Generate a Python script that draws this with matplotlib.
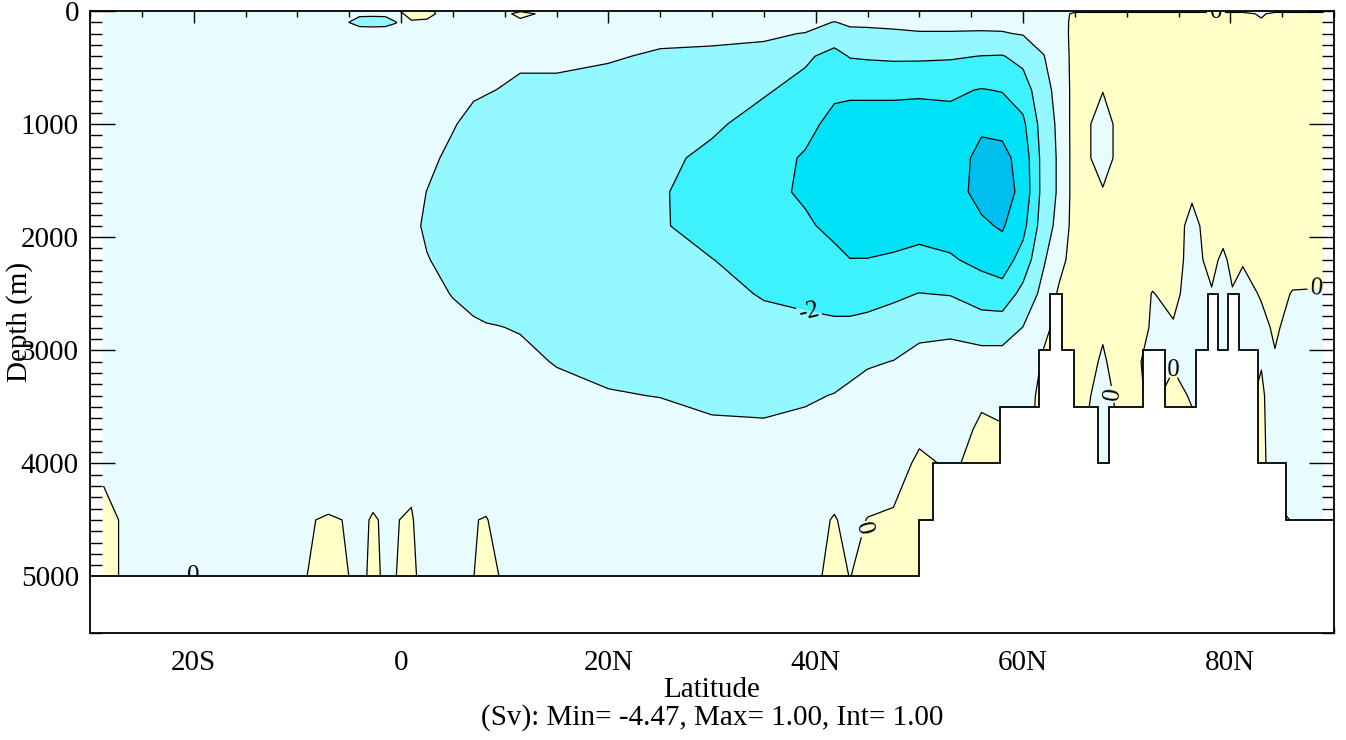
import numpy as np
import matplotlib.pyplot as plt

plt.rcParams['font.family'] = ['Liberation Serif', 'DejaVu Serif']
plt.rcParams['contour.negative_linestyle'] = 'solid'

# grid of the overturning streamfunction (Sv)
lats = [-28.7, -27, -20, -12, -9.2, -7, -4.9, -4, -2.7, -1.5, -0.5, 1, 2.5, 5, 7,
        8.2, 9.5, 11.5, 15, 20, 25, 30, 35, 39, 41.8, 43.3, 45, 47.5, 50, 53, 56,
        58, 60, 62, 63.5, 65, 67.7, 70, 72.5, 74.5, 76.3, 78.2, 79.3, 80.2, 81.2,
        83, 84.3, 86, 89]
depths = [0, 25, 100, 200, 400, 700, 1000, 1300, 1600, 1900, 2200, 2500, 2800,
          3100, 3400, 3700, 4000, 4500, 5000]

# one profile per latitude, top to bottom
psi_cols = [
    [-0.5, -0.5, -0.5, -0.5, -0.5, -0.5, -0.5, -0.5, -0.5, -0.5, -0.5, -0.5, -0.5, -0.5, -0.5, -0.5, -0.2, 0.3, 0.3],  # -28.7
    [-0.5, -0.5, -0.5, -0.5, -0.5, -0.5, -0.5, -0.5, -0.5, -0.5, -0.5, -0.5, -0.5, -0.5, -0.5, -0.5, -0.4, -0.05, -0.05],  # -27
    [-0.5, -0.5, -0.5, -0.5, -0.5, -0.5, -0.5, -0.5, -0.5, -0.5, -0.5, -0.5, -0.5, -0.5, -0.5, -0.5, -0.5, -0.5, -0.5],  # -20
    [-0.5, -0.5, -0.5, -0.5, -0.5, -0.5, -0.5, -0.5, -0.5, -0.5, -0.5, -0.5, -0.5, -0.5, -0.5, -0.5, -0.5, -0.5, -0.5],  # -12
    [-0.5, -0.5, -0.5, -0.5, -0.5, -0.5, -0.5, -0.5, -0.5, -0.5, -0.5, -0.5, -0.5, -0.5, -0.5, -0.5, -0.45, -0.04, -0.02],  # -9.2
    [-0.5, -0.5, -0.5, -0.5, -0.5, -0.5, -0.5, -0.5, -0.5, -0.5, -0.5, -0.5, -0.5, -0.5, -0.5, -0.5, -0.45, 0.05, 0.3],  # -7
    [-0.5, -0.7, -1.03, -0.5, -0.5, -0.5, -0.5, -0.5, -0.5, -0.5, -0.5, -0.5, -0.5, -0.5, -0.5, -0.5, -0.45, -0.03, -0.02],  # -4.9
    [-0.5, -0.85, -1.3, -0.5, -0.5, -0.5, -0.5, -0.5, -0.5, -0.5, -0.5, -0.5, -0.5, -0.5, -0.5, -0.5, -0.45, -0.14, -0.35],  # -4
    [-0.5, -0.85, -1.35, -0.5, -0.5, -0.5, -0.5, -0.5, -0.5, -0.5, -0.5, -0.5, -0.5, -0.5, -0.5, -0.5, -0.4, 0.06, 0.3],  # -2.7
    [-0.5, -0.85, -1.3, -0.5, -0.5, -0.5, -0.5, -0.5, -0.5, -0.5, -0.5, -0.5, -0.5, -0.5, -0.5, -0.5, -0.4, -0.08, -0.21],  # -1.5
    [-0.1, -0.3, -1.05, -0.5, -0.5, -0.5, -0.5, -0.5, -0.5, -0.5, -0.5, -0.5, -0.5, -0.5, -0.5, -0.5, -0.4, -0.03, -0.01],  # -0.5
    [0.3, 0.3, -0.1, -0.4, -0.5, -0.55, -0.6, -0.7, -0.8, -0.85, -0.8, -0.7, -0.6, -0.55, -0.5, -0.45, -0.35, 0.1, 0.3],  # 1
    [0.2, 0.25, -0.15, -0.4, -0.5, -0.6, -0.7, -0.85, -1.01, -1.1, -0.97, -0.8, -0.7, -0.6, -0.55, -0.5, -0.45, -0.65, -0.6],  # 2.5
    [-0.5, -0.5, -0.5, -0.55, -0.6, -0.7, -0.95, -1.15, -1.25, -1.25, -1.2, -1.03, -0.8, -0.65, -0.55, -0.5, -0.45, -0.5, -0.5],  # 5
    [-0.5, -0.5, -0.5, -0.55, -0.65, -0.9, -1.2, -1.35, -1.45, -1.45, -1.4, -1.2, -0.9, -0.7, -0.6, -0.5, -0.45, -0.02, -0.01],  # 7
    [-0.5, -0.5, -0.5, -0.6, -0.7, -0.95, -1.3, -1.45, -1.55, -1.55, -1.5, -1.3, -0.95, -0.75, -0.6, -0.5, -0.45, 0.03, 0.3],  # 8.2
    [-0.5, -0.5, -0.5, -0.6, -0.75, -1.02, -1.35, -1.5, -1.6, -1.6, -1.55, -1.35, -0.98, -0.75, -0.6, -0.5, -0.45, -0.17, -0.01],  # 9.5
    [-0.1, 0.35, -0.3, -0.6, -0.85, -1.15, -1.4, -1.55, -1.65, -1.65, -1.6, -1.4, -1.05, -0.8, -0.6, -0.5, -0.45, -0.5, -0.5],  # 11.5
    [-0.5, -0.5, -0.5, -0.6, -0.85, -1.15, -1.45, -1.6, -1.7, -1.75, -1.7, -1.55, -1.3, -1.05, -0.75, -0.55, -0.45, -0.5, -0.5],  # 15
    [-0.5, -0.5, -0.55, -0.65, -0.92, -1.3, -1.55, -1.7, -1.8, -1.85, -1.8, -1.65, -1.45, -1.2, -0.95, -0.65, -0.45, -0.5, -0.5],  # 20
    [-0.5, -0.55, -0.65, -0.8, -1.1, -1.45, -1.65, -1.8, -1.9, -1.9, -1.85, -1.75, -1.55, -1.3, -1.02, -0.7, -0.45, -0.5, -0.5],  # 25
    [-0.5, -0.55, -0.7, -0.82, -1.15, -1.55, -1.85, -2.2, -2.45, -2.4, -1.98, -1.8, -1.6, -1.4, -1.2, -0.85, -0.5, -0.5, -0.5],  # 30
    [-0.5, -0.55, -0.7, -0.92, -1.15, -1.9, -2.35, -2.6, -2.7, -2.65, -2.4, -2.05, -1.8, -1.55, -1.3, -0.85, -0.5, -0.5, -0.5],  # 35
    [-0.55, -0.6, -0.8, -1.02, -1.85, -2.3, -2.7, -3.1, -3.15, -2.85, -2.5, -2.15, -1.85, -1.6, -1.1, -0.8, -0.5, -0.3, -0.4],  # 39
    [-0.6, -0.75, -1.02, -1.5, -2.3, -2.8, -3.3, -3.55, -3.6, -3.25, -2.75, -2.3, -1.85, -1.4, -0.97, -0.7, -0.45, 0.05, 0.3],  # 41.8
    [-0.55, -0.65, -0.9, -1.15, -1.95, -2.85, -3.35, -3.6, -3.65, -3.45, -2.98, -2.4, -1.8, -1.3, -0.8, -0.6, -0.4, -0.2, -0.02],  # 43.3
    [-0.55, -0.65, -0.9, -1.12, -1.9, -2.85, -3.35, -3.6, -3.6, -3.4, -2.98, -2.3, -1.75, -1.1, -0.65, -0.5, -0.4, 0.02, 0.3],  # 45
    [-0.55, -0.65, -0.85, -1.1, -1.85, -2.85, -3.35, -3.55, -3.55, -3.35, -2.9, -2.15, -1.6, -0.98, -0.6, -0.45, -0.35, 0.1, 0.3],  # 47.5
    [-0.55, -0.6, -0.8, -1.05, -1.85, -2.9, -3.3, -3.5, -3.5, -3.3, -2.75, -1.98, -1.25, -0.7, -0.45, -0.2, 0.15, 0.3, 0.3],  # 50
    [-0.55, -0.6, -0.8, -1.05, -1.9, -2.85, -3.3, -3.55, -3.6, -3.4, -2.9, -2.05, -1.2, -0.6, -0.4, -0.4, -0.1, 0.1, 0.1],  # 53
    [-0.55, -0.6, -0.8, -1.07, -2.02, -3.05, -3.85, -4.25, -4.3, -3.85, -3.25, -2.5, -1.45, -0.6, -0.15, 0.15, 0.2, 0.2, 0.2],  # 56
    [-0.55, -0.6, -0.8, -1.05, -2.05, -2.95, -3.7, -4.3, -4.47, -4.1, -3.5, -2.6, -1.45, -0.6, -0.4, 0.1, 0.2, 0.2, 0.2],  # 58
    [-0.55, -0.6, -0.75, -0.95, -1.7, -2.5, -3.2, -3.6, -3.7, -3.3, -2.6, -1.7, -0.98, -0.6, -0.3, -0.2, -0.1, 0.1, 0.1],  # 60
    [-0.5, -0.5, -0.6, -0.75, -1.02, -1.3, -1.5, -1.6, -1.6, -1.45, -1.1, -0.7, -0.15, 0.1, 0.2, 0.2, 0.2, 0.2, 0.2],  # 62
    [-0.3, -0.4, -0.45, -0.5, -0.6, -0.7, -0.8, -0.85, -0.85, -0.7, -0.3, 0.15, 0.2, 0.2, 0.2, 0.2, 0.2, 0.2, 0.2],  # 63.5
    [-0.2, 0.2, 0.3, 0.35, 0.35, 0.35, 0.4, 0.4, 0.4, 0.4, 0.4, 0.4, 0.3, 0.25, 0.2, 0.1, 0.1, 0.1, 0.1],  # 65
    [-0.2, 0.2, 0.3, 0.35, 0.35, 0.02, -0.3, -0.3, 0.05, 0.35, 0.35, 0.3, 0.05, -0.05, -0.15, -0.15, -0.1, 0.05, 0.05],  # 67.7
    [-0.2, 0.2, 0.3, 0.35, 0.4, 0.4, 0.4, 0.4, 0.4, 0.4, 0.4, 0.35, 0.3, 0.25, 0.2, 0.1, 0.1, 0.1, 0.1],  # 70
    [-0.2, 0.2, 0.3, 0.35, 0.4, 0.4, 0.4, 0.4, 0.4, 0.35, 0.25, -0.02, -0.05, -0.2, -0.1, 0.05, 0.05, 0.05, 0.05],  # 72.5
    [-0.2, 0.2, 0.3, 0.35, 0.4, 0.4, 0.4, 0.4, 0.35, 0.3, 0.3, 0.15, -0.05, -0.05, 0.15, 0.2, 0.2, 0.2, 0.2],  # 74.5
    [-0.2, 0.2, 0.3, 0.35, 0.4, 0.4, 0.4, 0.35, 0.1, -0.2, -0.25, -0.25, -0.2, -0.15, -0.05, 0.1, 0.1, 0.1, 0.1],  # 76.3
    [-0.2, 0.2, 0.3, 0.35, 0.4, 0.4, 0.4, 0.4, 0.35, 0.3, 0.2, -0.05, -0.1, -0.1, -0.1, -0.1, -0.1, -0.1, -0.1],  # 78.2
    [-0.2, 0.2, 0.3, 0.35, 0.4, 0.4, 0.4, 0.4, 0.35, 0.3, -0.15, -0.2, -0.2, -0.1, -0.1, -0.1, -0.1, -0.1, -0.1],  # 79.3
    [-0.2, 0.2, 0.3, 0.35, 0.4, 0.4, 0.4, 0.4, 0.35, 0.3, 0.2, -0.05, -0.1, -0.1, -0.1, -0.1, -0.1, -0.1, -0.1],  # 80.2
    [-0.2, 0.2, 0.3, 0.35, 0.4, 0.4, 0.4, 0.4, 0.4, 0.35, 0.05, -0.2, -0.25, -0.2, -0.1, -0.1, -0.1, -0.1, -0.1],  # 81.2
    [-0.2, -0.1, 0.1, 0.3, 0.4, 0.4, 0.4, 0.4, 0.4, 0.35, 0.3, 0.05, -0.15, -0.02, 0.06, 0.08, 0.1, 0.1, 0.1],  # 83
    [-0.2, 0.2, 0.3, 0.35, 0.4, 0.4, 0.4, 0.4, 0.4, 0.35, 0.3, 0.18, 0.08, -0.05, -0.2, -0.2, -0.2, 0.1, 0.1],  # 84.3
    [-0.2, 0.2, 0.3, 0.35, 0.4, 0.4, 0.4, 0.4, 0.4, 0.35, 0.25, -0.03, -0.2, -0.25, -0.25, -0.2, -0.1, -0.02, -0.02],  # 86
    [-0.2, 0.2, 0.3, 0.35, 0.4, 0.4, 0.4, 0.4, 0.4, 0.35, 0.25, -0.05, -0.2, -0.25, -0.25, -0.25, -0.2, -0.1, -0.1],  # 89
]
psi = np.array(psi_cols).T

# sea floor (step edges in latitude, depth of each step)
floor_edges = [-30, 50.0, 51.3, 57.8, 61.5, 62.6, 63.8, 64.9, 67.2, 68.3, 71.6,
               73.7, 76.7, 77.8, 78.8, 79.8, 80.8, 82.7, 85.4, 90]
floor_depth = [5000, 4500, 4000, 3500, 3000, 2500, 3000, 3500, 4000, 3500, 3000,
               3500, 3000, 2500, 3000, 2500, 3000, 4000, 4500]

fill_levels = [-5, -4, -3, -2, -1, 0, 1]
fill_colors = ['#00BFEF', '#00E2F8', '#3DF1FD', '#93F8FF', '#E8FCFF', '#FFFFC8']
line_levels = [-4, -3, -2, -1, 0]
label_spots = [(39.4, 2640), (43.6, 4560), (78.6, 12), (88.3, 2440),
               (67.9, 3400), (76.2, 3100)]

xtick_pos = [-20, 0, 20, 40, 60, 80]
xtick_lab = ['20S', '0', '20N', '40N', '60N', '80N']

W, H = 1346, 740
fig = plt.figure(figsize=(W / 100, H / 100), dpi=100)
ax = fig.add_axes([90 / W, 1 - 633 / H, (1334 - 90) / W, (633 - 11) / H])

ax.contourf(lats, depths, psi, levels=fill_levels, colors=fill_colors, zorder=1)
cs = ax.contour(lats, depths, psi, levels=line_levels, colors='black',
                linewidths=0.9, linestyles='solid', zorder=2)
ax.clabel(cs, manual=label_spots, fmt='%d', fontsize=18,
          inline=True, inline_spacing=3)
# zero label sitting on the flat floor
ax.text(-20, 5000, '0', fontsize=18, ha='center', va='center', zorder=3)

ax.stairs(floor_depth, floor_edges, baseline=5500, fill=True, color='white',
          zorder=3.5)
ax.stairs(floor_depth, floor_edges, baseline=None, color='black', lw=1.3,
          zorder=4)

ax.set_xlim(-30, 90)
ax.set_ylim(5500, 0)
ax.set_xticks(xtick_pos)
ax.set_xticklabels(xtick_lab)
ax.set_xticks(np.arange(-30, 91, 5), minor=True)
ax.set_yticks(np.arange(0, 5001, 1000))
ax.set_yticks(np.arange(0, 5501, 100), minor=True)

ax.tick_params(axis='x', which='major', direction='in', length=8.6, width=1,
               top=True, bottom=True, labelsize=21, pad=12)
ax.tick_params(axis='x', which='minor', direction='in', length=4, width=1,
               top=True, bottom=True)
ax.tick_params(axis='y', which='major', direction='in', length=18, width=1,
               left=True, right=True, labelsize=21, pad=8)
ax.tick_params(axis='y', which='minor', direction='in', length=8.6, width=1,
               left=True, right=True)
for s in ax.spines.values():
    s.set_linewidth(1.3)
    s.set_zorder(5)

fig.text(712 / W, 1 - 690 / H, 'Latitude', fontsize=21, ha='center', va='center')
fig.text(712 / W, 1 - 718 / H, '(Sv): Min= -4.47, Max= 1.00, Int= 1.00',
         fontsize=21, ha='center', va='center')
fig.text(20 / W, 1 - 322 / H, 'Depth (m)', fontsize=21, rotation=90,
         ha='center', va='center')

fig.savefig('out.png', dpi=100)
